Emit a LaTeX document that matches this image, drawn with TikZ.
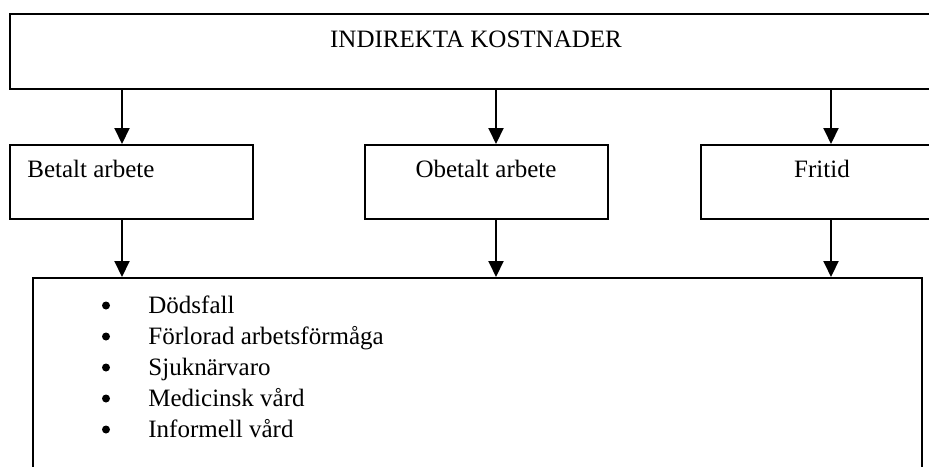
\documentclass[tikz,border=0pt]{standalone}
\usepackage{fontspec}
\setmainfont{Liberation Serif}
\usetikzlibrary{arrows.meta,fit}

\tikzset{
    box/.style={draw, line width=1pt, inner sep=0pt, rectangle},
    arr/.style={-{Triangle[width=7.5pt,length=8pt]}, line width=1pt},
    txt/.style={inner sep=0pt, font=\fontsize{12.5}{15}\selectfont},
    dot/.style={circle, fill, inner sep=0pt, minimum size=4pt}
}

\begin{document}
\begin{tikzpicture}[x=0.5pt,y=-0.5pt]
    \clip (0,0) rectangle (929,466);

    % boxes
    \node[box, fit={(10,14) (945,89)}] (top) {};
    \node[box, fit={(10,145) (253,219)}] (betalt) {};
    \node[box, fit={(365,145) (608,219)}] (obetalt) {};
    \node[box, fit={(701,145) (945,219)}] (fritid) {};
    \node[box, fit={(33,278) (922,490)}] (orsak) {};

    % texts
    \node[txt, anchor=base] (toptxt) at (476,47) {INDIREKTA KOSTNADER};
    \node[txt, anchor=base west] (betalttxt) at (27,177) {Betalt arbete};
    \node[txt, anchor=base] (obetalttxt) at (486,177) {Obetalt arbete};
    \node[txt, anchor=base] (fritidtxt) at (822,177) {Fritid};

    \foreach \i/\t in {0/Dödsfall,1/Förlorad arbetsförmåga,2/Sjuknärvaro,3/Medicinsk vård,4/Informell vård} {
        \node[dot] (dot\i) at (106,305.5+31*\i) {};
        \node[txt, anchor=base west] (item\i) at (148,313+31*\i) {\t};
    }

    % arrows
    \coordinate (a1) at (122,0);
    \coordinate (a2) at (496,0);
    \coordinate (a3) at (831,0);
    \draw[arr] (top.south -| a1) -- (betalt.north -| a1);
    \draw[arr] (top.south -| a2) -- (obetalt.north -| a2);
    \draw[arr] (top.south -| a3) -- (fritid.north -| a3);
    \draw[arr] (betalt.south -| a1) -- (orsak.north -| a1);
    \draw[arr] (obetalt.south -| a2) -- (orsak.north -| a2);
    \draw[arr] (fritid.south -| a3) -- (orsak.north -| a3);
\end{tikzpicture}
\end{document}
